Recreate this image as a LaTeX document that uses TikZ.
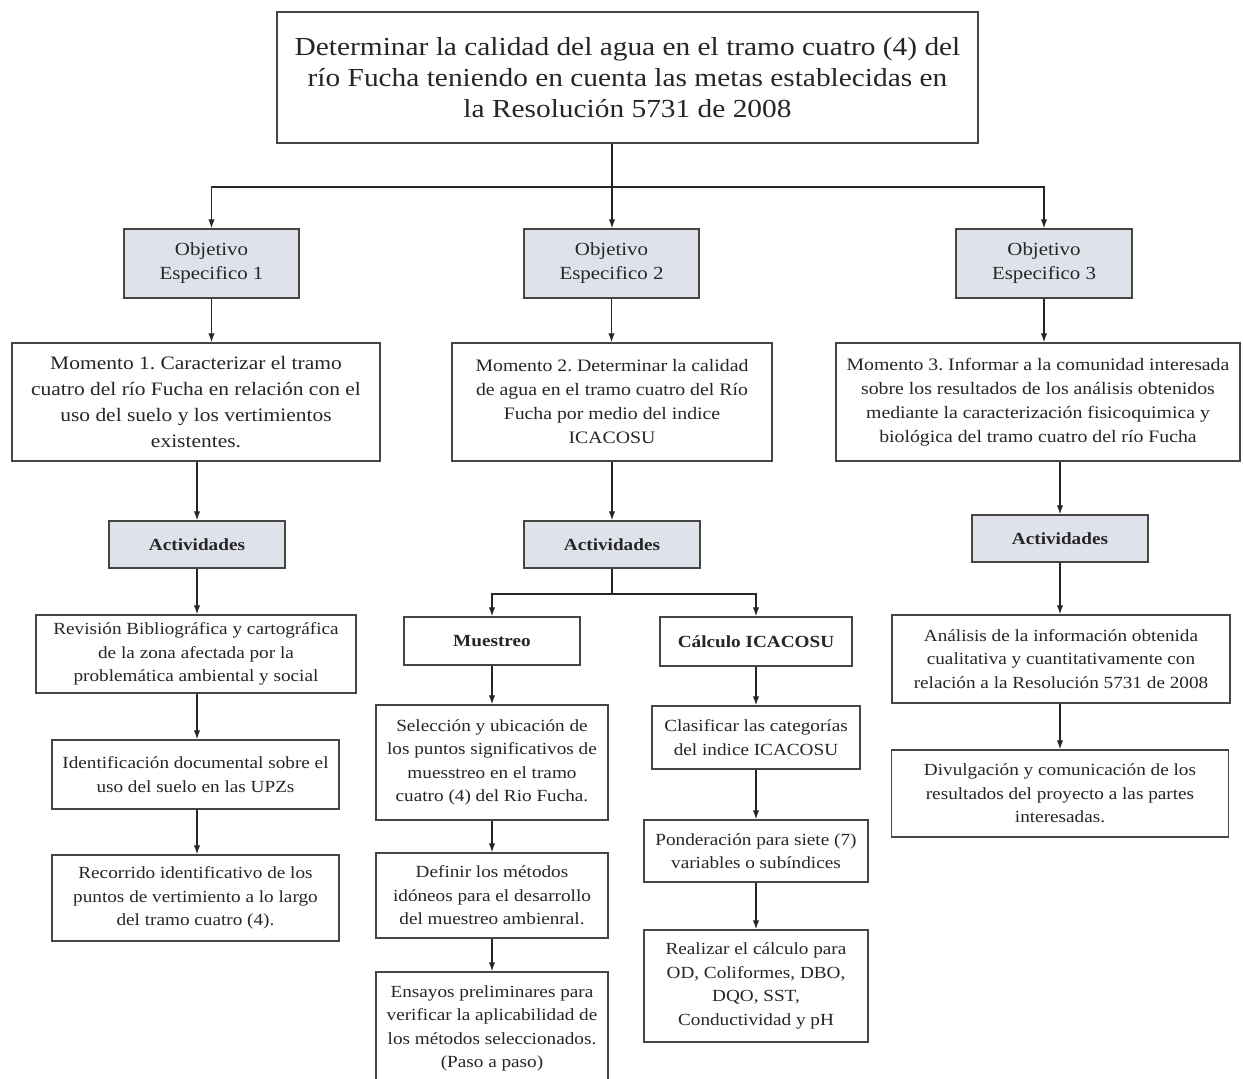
\documentclass[tikz,border=0pt]{standalone}
\usepackage{fontspec}
\setmainfont{Liberation Serif}[FakeStretch=1.13]
\usetikzlibrary{arrows.meta}
\definecolor{boxc}{HTML}{454545}
\definecolor{objfill}{HTML}{DFE2EA}
\definecolor{txt}{HTML}{262626}
\frenchspacing
\newcommand\ftop{\fontsize{26}{31}\selectfont}
\newcommand\fmomA{\fontsize{19}{26}\selectfont}
\newcommand\fmom{\fontsize{17.5}{24}\selectfont}
\newcommand\fobj{\fontsize{18.5}{24}\selectfont}
\newcommand\fsm{\fontsize{17}{23.5}\selectfont}
\newcommand\fbold{\fontsize{17}{23}\selectfont\bfseries}
\begin{document}
\begin{tikzpicture}[x=1pt,y=-1pt,
  box/.style={draw=boxc, line width=1.5pt, inner sep=0pt, align=center, text=txt},
  gbox/.style={box, fill=objfill},
  arr/.style={draw=black!85, line width=1.3pt, -{Latex[length=9pt,width=6.5pt]}},
  ln/.style={draw=black!85, line width=1.3pt}]
\useasboundingbox[fill=white] (0,0) rectangle (1243,1079);
% top
\node[box, minimum width=701pt, minimum height=131pt, font=\ftop] (top) at (627.5,77.5)
  {Determinar la calidad del agua en el tramo cuatro (4) del\\río Fucha teniendo en cuenta las metas establecidas en\\la Resolución 5731 de 2008};
% objectives
\node[gbox, minimum width=175pt, minimum height=69pt, font=\fobj] (o1) at (211.5,263.5) {Objetivo\\Especifico 1};
\node[gbox, minimum width=175pt, minimum height=69pt, font=\fobj] (o2) at (611.5,263.5) {Objetivo\\Especifico 2};
\node[gbox, minimum width=176pt, minimum height=69pt, font=\fobj] (o3) at (1044,263.5) {Objetivo\\Especifico 3};
% momentos
\node[box, minimum width=368pt, minimum height=118pt, font=\fmomA] (m1) at (196,402)
  {Momento 1. Caracterizar el tramo\\cuatro del río Fucha en relación con el\\uso del suelo y los vertimientos\\existentes.};
\node[box, minimum width=320pt, minimum height=118pt, font=\fmom] (m2) at (612,402)
  {Momento 2. Determinar la calidad\\de agua en el tramo cuatro del Río\\Fucha por medio del indice\\ICACOSU};
\node[box, minimum width=404pt, minimum height=118pt, font=\fmom] (m3) at (1038,402)
  {Momento 3. Informar a la comunidad interesada\\sobre los resultados de los análisis obtenidos\\mediante la caracterización fisicoquimica y\\biológica del tramo cuatro del río Fucha};
% actividades
\node[gbox, minimum width=176pt, minimum height=47pt, font=\fbold] (a1) at (197,544.5) {Actividades};
\node[gbox, minimum width=176pt, minimum height=47pt, font=\fbold] (a2) at (612,544.5) {Actividades};
\node[gbox, minimum width=176pt, minimum height=47pt, font=\fbold] (a3) at (1060,538.5) {Actividades};
% column 1
\node[box, minimum width=320pt, minimum height=78pt, font=\fsm] (rev) at (196,654)
  {Revisión Bibliográfica y cartográfica\\de la zona afectada por la\\problemática ambiental y social};
\node[box, minimum width=287pt, minimum height=69pt, font=\fsm] (ide) at (195.5,774.5)
  {Identificación documental sobre el\\uso del suelo en las UPZs};
\node[box, minimum width=287pt, minimum height=86pt, font=\fsm] (rec) at (195.5,898)
  {Recorrido identificativo de los\\puntos de vertimiento a lo largo\\del tramo cuatro (4).};
% column 2
\coordinate (j1) at (612,594);
\node[box, minimum width=176pt, minimum height=48pt, font=\fbold] (mue) at (492,641) {Muestreo};
\node[box, minimum width=192pt, minimum height=49pt, font=\fbold] (cal) at (756,641.5) {Cálculo ICACOSU};
\node[box, minimum width=232pt, minimum height=115pt, font=\fsm] (sel) at (492,762.5)
  {Selección y ubicación de\\los puntos significativos de\\muesstreo en el tramo\\cuatro (4) del Rio Fucha.};
\node[box, minimum width=232pt, minimum height=85pt, font=\fsm] (def) at (492,895.5)
  {Definir los métodos\\idóneos para el desarrollo\\del muestreo ambienral.};
\node[box, minimum width=232pt, minimum height=113pt, font=\fsm] (ens) at (492,1028.5)
  {Ensayos preliminares para\\verificar la aplicabilidad de\\los métodos seleccionados.\\(Paso a paso)};
\node[box, minimum width=208pt, minimum height=63pt, font=\fsm] (cla) at (756,737.5)
  {Clasificar las categorías\\del indice ICACOSU};
\node[box, minimum width=224pt, minimum height=62pt, font=\fsm] (pon) at (756,851)
  {Ponderación para siete (7)\\variables o subíndices};
\node[box, minimum width=224pt, minimum height=112pt, font=\fsm] (rea) at (756,986)
  {Realizar el cálculo para\\OD, Coliformes, DBO,\\DQO, SST,\\Conductividad y pH};
% column 3
\node[box, minimum width=338pt, minimum height=88pt, font=\fsm] (ana) at (1061,659)
  {Análisis de la información obtenida\\cualitativa y cuantitativamente con\\relación a la Resolución 5731 de 2008};
\node[box, minimum width=337pt, minimum height=87pt, font=\fsm] (div) at (1060,793.5)
  {Divulgación y comunicación de los\\resultados del proyecto a las partes\\interesadas.};
% connectors
\coordinate (j0) at (612,187);
\draw[ln] (top.south -| j0) -- (j0);
\draw[arr] (j0) -| (o1.north);
\draw[arr] (j0) -| (o3.north);
\draw[arr] (j0) -- (j0 |- o2.north);
\draw[arr] (o1.south) -- (o1.south |- m1.north);
\draw[arr] (o2.south) -- (o2.south |- m2.north);
\draw[arr] (o3.south) -- (o3.south |- m3.north);
\draw[arr] (a1.north |- m1.south) -- (a1.north);
\draw[arr] (m2.south) -- (a2.north);
\draw[arr] (a3.north |- m3.south) -- (a3.north);
\draw[arr] (a1.south) -- (a1.south |- rev.north);
\draw[arr] (a1.south |- rev.south) -- (a1.south |- ide.north);
\draw[arr] (a1.south |- ide.south) -- (a1.south |- rec.north);
\draw[ln] (a2.south) -- (j1);
\draw[arr] (j1) -| (mue.north);
\draw[arr] (j1) -| (cal.north);
\draw[arr] (mue.south) -- (sel.north);
\draw[arr] (sel.south) -- (def.north);
\draw[arr] (def.south) -- (ens.north);
\draw[arr] (cal.south) -- (cla.north);
\draw[arr] (cla.south) -- (pon.north);
\draw[arr] (pon.south) -- (rea.north);
\draw[arr] (a3.south) -- (a3.south |- ana.north);
\draw[arr] (a3.south |- ana.south) -- (a3.south |- div.north);
\end{tikzpicture}
\end{document}
